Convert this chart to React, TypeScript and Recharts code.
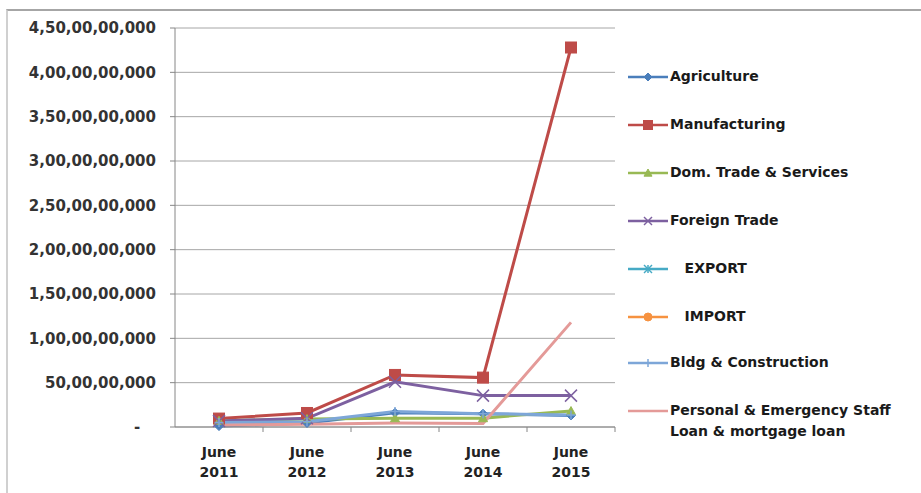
import React from "react";
import { LineChart, Line, XAxis, YAxis, CartesianGrid } from "recharts";

const PERIODS = ["June 2011", "June 2012", "June 2013", "June 2014", "June 2015"];

const AGRICULTURE = [10000000, 45000000, 160000000, 150000000, 130000000];
const MANUFACTURING = [95000000, 158000000, 587000000, 557000000, 4280000000];
const DOM_TRADE = [70000000, 90000000, 100000000, 100000000, 180000000];
const FOREIGN_TRADE = [68000000, 98000000, 510000000, 354000000, 354000000];
const EXPORT = [null, null, null, null, null];
const IMPORT = [null, null, null, null, null];
const BLDG = [50000000, 60000000, 175000000, 150000000, 135000000];
const PERSONAL = [20000000, 30000000, 45000000, 40000000, 1180000000];

const Y_TICKS = [0, 500000000, 1000000000, 1500000000, 2000000000, 2500000000, 3000000000, 3500000000, 4000000000, 4500000000];

const SERIES = [
    { key: "agriculture", name: "Agriculture", color: "#4A7EBB", shape: "diamond", values: AGRICULTURE },
    { key: "manufacturing", name: "Manufacturing", color: "#BE4B48", shape: "square", values: MANUFACTURING },
    { key: "domTrade", name: "Dom. Trade & Services", color: "#98B954", shape: "triangle", values: DOM_TRADE },
    { key: "foreignTrade", name: "Foreign Trade", color: "#7D60A0", shape: "x", values: FOREIGN_TRADE },
    { key: "export", name: "   EXPORT", color: "#46AAC5", shape: "star", values: EXPORT },
    { key: "import", name: "   IMPORT", color: "#F69240", shape: "circle", values: IMPORT },
    { key: "bldg", name: "Bldg & Construction", color: "#7DA6D8", shape: "plus", values: BLDG },
    { key: "personal", name: "Personal & Emergency Staff\nLoan & mortgage loan", color: "#E49A98", shape: "none", values: PERSONAL },
];

const data = PERIODS.map((period, i) => {
    const row: { [key: string]: any } = { period };
    SERIES.forEach((s) => { row[s.key] = s.values[i]; });
    return row;
});

const FONT = "'DejaVu Sans', sans-serif";
const PLOT_LEFT = 175;
const PLOT_RIGHT = 615;
const STEP = (PLOT_RIGHT - PLOT_LEFT) / PERIODS.length;

const formatIndian = (v: number) => {
    if (v === 0) return "-\u00a0\u00a0\u00a0";
    const s = Math.round(v).toString();
    const last3 = s.slice(-3);
    let rest = s.slice(0, -3);
    const parts: string[] = [];
    while (rest.length > 2) {
        parts.unshift(rest.slice(-2));
        rest = rest.slice(0, -2);
    }
    if (rest) parts.unshift(rest);
    return parts.length ? parts.join(",") + "," + last3 : last3;
};

const Marker = ({ cx, cy, shape, color, size }: any) => {
    const r = size / 2;
    switch (shape) {
        case "diamond":
            return <polygon points={`${cx},${cy - r} ${cx + r},${cy} ${cx},${cy + r} ${cx - r},${cy}`} fill={color} stroke={color} />;
        case "square":
            return <rect x={cx - r} y={cy - r} width={size} height={size} fill={color} stroke={color} />;
        case "triangle":
            return <polygon points={`${cx},${cy - r} ${cx + r},${cy + r * 0.8} ${cx - r},${cy + r * 0.8}`} fill={color} stroke={color} />;
        case "x":
            return (
                <g stroke={color} strokeWidth={1.5}>
                    <line x1={cx - r} y1={cy - r} x2={cx + r} y2={cy + r} />
                    <line x1={cx - r} y1={cy + r} x2={cx + r} y2={cy - r} />
                </g>
            );
        case "star":
            return (
                <g stroke={color} strokeWidth={1.5}>
                    <line x1={cx - r} y1={cy - r} x2={cx + r} y2={cy + r} />
                    <line x1={cx - r} y1={cy + r} x2={cx + r} y2={cy - r} />
                    <line x1={cx} y1={cy - r} x2={cx} y2={cy + r} />
                </g>
            );
        case "circle":
            return <circle cx={cx} cy={cy} r={r} fill={color} stroke={color} />;
        case "plus":
            return (
                <g stroke={color} strokeWidth={1.5}>
                    <line x1={cx - r} y1={cy} x2={cx + r} y2={cy} />
                    <line x1={cx} y1={cy - r} x2={cx} y2={cy + r} />
                </g>
            );
        default:
            return null;
    }
};

const makeDot = (shape: string, color: string) => (props: any) => {
    const { cx, cy, index } = props;
    if (shape === "none" || cx == null || cy == null || props.value == null) return <g key={`dot-${index}`} />;
    const size = shape === "square" ? 11 : shape === "x" ? 12 : 9;
    return (
        <g key={`dot-${index}`}>
            <Marker cx={cx} cy={cy} shape={shape} color={color} size={size} />
        </g>
    );
};

const PeriodTick = ({ x, y, payload }: any) => {
    const [month, year] = String(payload.value).split(" ");
    return (
        <g>
            <line x1={x + STEP / 2} y1={y} x2={x + STEP / 2} y2={y + 5} stroke="#868686" />
            <text x={x} y={y + 30} textAnchor="middle" fontSize={14} fontWeight={700} fill="#222" fontFamily={FONT}>
                <tspan x={x}>{month}</tspan>
                <tspan x={x} dy={20}>{year}</tspan>
            </text>
        </g>
    );
};

const LegendBox = () => {
    const tops = [77, 125, 173, 221, 269, 317, 363, 411];
    return (
        <>
            {SERIES.map((s, i) => (
                <div
                    key={`legend-${s.key}`}
                    style={{ position: "absolute", left: 628, top: tops[i] - 11, display: "flex", alignItems: "flex-start" }}
                >
                    <svg width={42} height={22} style={{ flex: "none" }}>
                        <line x1={0} y1={11} x2={40} y2={11} stroke={s.color} strokeWidth={2.5} />
                        <Marker cx={20} cy={11} shape={s.shape} color={s.color} size={s.shape === "square" ? 9 : 8} />
                    </svg>
                    <span
                        style={{
                            fontFamily: FONT,
                            fontSize: 14,
                            fontWeight: 700,
                            color: "#1a1a1a",
                            lineHeight: "21px",
                            whiteSpace: "pre",
                        }}
                    >
                        {s.name}
                    </span>
                </div>
            ))}
        </>
    );
};

const App: React.FC = () => {
    return (
        <div style={{ position: "absolute", left: 0, top: 0, width: 921, height: 493, background: "#fff", overflow: "hidden" }}>
            <div
                style={{
                    position: "absolute",
                    left: 6,
                    top: 9,
                    right: -4,
                    bottom: -4,
                    borderTop: "2px solid #a6a6a6",
                    borderLeft: "2px solid #d0d0d0",
                }}
            />
            <div style={{ position: "absolute", left: 0, top: 0 }}>
                <LineChart width={921} height={493} data={data} margin={{ top: 28, right: 306, bottom: 0, left: 0 }}>
                    <CartesianGrid vertical={false} stroke="#a6a6a6" strokeWidth={1} />
                    <XAxis
                        dataKey="period"
                        height={66}
                        padding={{ left: STEP / 2, right: STEP / 2 }}
                        tickLine={false}
                        tickSize={0}
                        tickMargin={0}
                        axisLine={{ stroke: "#868686" }}
                        tick={<PeriodTick />}
                        interval={0}
                    />
                    <YAxis
                        width={175}
                        domain={[0, 4500000000]}
                        ticks={Y_TICKS}
                        interval={0}
                        tickFormatter={formatIndian}
                        tickSize={5}
                        tickMargin={14}
                        axisLine={{ stroke: "#868686" }}
                        tickLine={{ stroke: "#868686" }}
                        tick={{ fontSize: 15, fontWeight: 700, fill: "#333", fontFamily: FONT }}
                    />
                    {SERIES.map((s) => (
                        <Line
                            key={s.key}
                            dataKey={s.key}
                            name={s.name}
                            type="linear"
                            stroke={s.color}
                            strokeWidth={3}
                            dot={makeDot(s.shape, s.color)}
                            activeDot={false}
                            connectNulls={false}
                            isAnimationActive={false}
                        />
                    ))}
                </LineChart>
            </div>
            <LegendBox />
        </div>
    );
};

export default App;
